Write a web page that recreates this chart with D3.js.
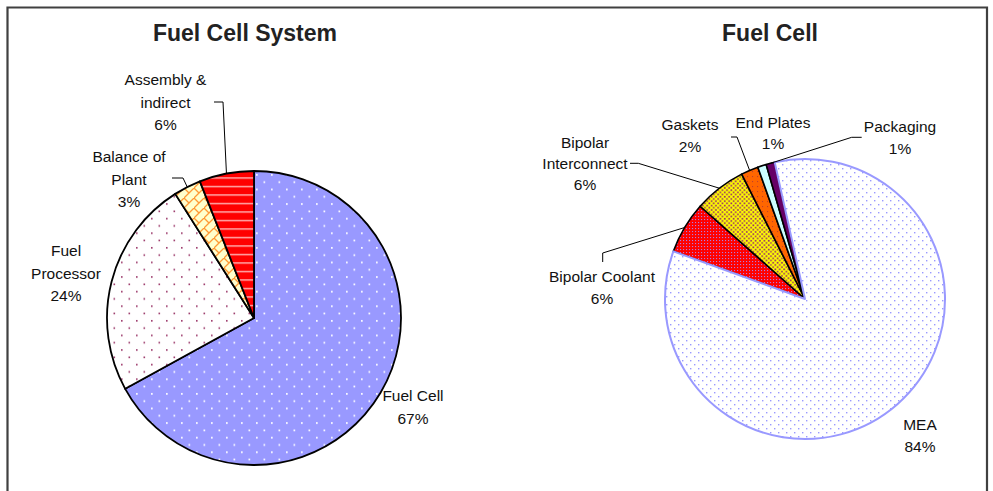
<!DOCTYPE html>
<html>
<head>
<meta charset="utf-8">
<script src="https://cdn.jsdelivr.net/npm/d3@7/dist/d3.min.js"></script>
<style>
  html, body { margin: 0; padding: 0; background: #fff; }
  svg { display: block; }
  text { font-family: "Liberation Sans", Arial, sans-serif; fill: #111; }
</style>
</head>
<body>
<svg id="chart" width="993" height="491"></svg>
<script>
// Cost breakdown data (percent)
const systemCategories = ["Fuel Cell", "Fuel Processor", "Balance of Plant", "Assembly & indirect"];
const systemValues = [67, 24, 3, 6];

const cellCategories = ["MEA", "Bipolar Coolant", "Bipolar Interconnect", "Gaskets", "End Plates", "Packaging"];
const cellValues = [84, 6, 6, 2, 1, 1];

const titles = ["Fuel Cell System", "Fuel Cell"];

// Label text lines per slice (name lines; the value line is appended)
const systemLabelLines = [["Fuel Cell"], ["Fuel", "Processor"], ["Balance of", "Plant"], ["Assembly &", "indirect"]];
const cellLabelLines = [["MEA"], ["Bipolar Coolant"], ["Bipolar", "Interconnect"], ["Gaskets"], ["End Plates"], ["Packaging"]];

const svg = d3.select("#chart");
const defs = svg.append("defs");

// ---- fill patterns ----
function dotPattern(id, w, h, bg, dot, pts, size) {
  const p = defs.append("pattern").attr("id", id)
    .attr("patternUnits", "userSpaceOnUse").attr("width", w).attr("height", h);
  p.append("rect").attr("width", w).attr("height", h).attr("fill", bg);
  pts.forEach(([x, y]) => p.append("rect").attr("x", x).attr("y", y)
    .attr("width", size).attr("height", size).attr("fill", dot));
}
dotPattern("pFuelCell", 15, 14.6, "#9999FF", "#FFFFFF", [[2, 2], [9.5, 9.3]], 1.7);
dotPattern("pProcessor", 15, 14.6, "#FFFFFF", "#993366", [[2, 2], [9.5, 9.3]], 1.6);
dotPattern("pMEA", 8, 8, "#FFFFFF", "#9999FF", [[1, 1], [5, 5]], 1.4);
dotPattern("pCoolant", 3, 3, "#FF0000", "#B07BE0", [[1, 1]], 1.1);
dotPattern("pGaskets", 5, 5, "#FF6600", "#C0402A", [[2, 2]], 1.1);

// diagonal brick lattice
(function () {
  const p = defs.append("pattern").attr("id", "pBalance")
    .attr("patternUnits", "userSpaceOnUse").attr("width", 10).attr("height", 10);
  p.append("rect").attr("width", 10).attr("height", 10).attr("fill", "#FFFFCC");
  p.append("path").attr("d", "M-1,11 L11,-1 M0,0 L5,5")
    .attr("stroke", "#FF9933").attr("stroke-width", 1.3).attr("fill", "none");
})();
// horizontal stripes
(function () {
  const p = defs.append("pattern").attr("id", "pAssembly")
    .attr("patternUnits", "userSpaceOnUse").attr("width", 8).attr("height", 8.5);
  p.append("rect").attr("width", 8).attr("height", 8.5).attr("fill", "#FF0000");
  p.append("rect").attr("y", 4).attr("width", 8).attr("height", 1.1).attr("fill", "#FFE6E6");
})();
// checker
(function () {
  const p = defs.append("pattern").attr("id", "pInterconnect")
    .attr("patternUnits", "userSpaceOnUse").attr("width", 4.4).attr("height", 4.4);
  p.append("rect").attr("width", 4.4).attr("height", 4.4).attr("fill", "#FFFF00");
  p.append("rect").attr("x", 0.3).attr("y", 0.3).attr("width", 1.7).attr("height", 1.7).attr("fill", "#993366");
  p.append("rect").attr("x", 2.5).attr("y", 2.5).attr("width", 1.7).attr("height", 1.7).attr("fill", "#993366");
})();

const systemFills = ["url(#pFuelCell)", "url(#pProcessor)", "url(#pBalance)", "url(#pAssembly)"];
const cellFills = ["url(#pMEA)", "url(#pCoolant)", "url(#pInterconnect)", "url(#pGaskets)", "#CCFFFF", "#660066"];

// ---- frame ----
svg.append("path")
  .attr("d", "M7.5,491 L7.5,7.5 L987,7.5 L987,491")
  .attr("fill", "none").attr("stroke", "#404040").attr("stroke-width", 2.2);

// ---- pie drawing ----
function drawPie(cfg) {
  const g = svg.append("g").attr("transform", `translate(${cfg.cx},${cfg.cy})`);
  const pie = d3.pie().sort(null).value(d => d)
    .startAngle(cfg.start).endAngle(cfg.start + 2 * Math.PI);
  const arcs = pie(cfg.values);
  const arc = d3.arc().innerRadius(0).outerRadius(cfg.r);

  const order = cfg.drawOrder || arcs.map((d, i) => i);
  order.forEach(i => {
    g.append("path").attr("d", arc(arcs[i]))
      .attr("fill", cfg.fills[i])
      .attr("stroke", cfg.strokes[i])
      .attr("stroke-width", cfg.strokeWidths[i])
      .attr("stroke-linejoin", "round");
  });

  // labels with optional leader lines to the slice's outer edge midpoint
  arcs.forEach((a, i) => {
    const lay = cfg.labels[i];
    const lines = cfg.labelLines[i].concat([cfg.values[i] + "%"]);
    const t = svg.append("text").attr("text-anchor", "middle")
      .style("font-size", "15.5px");
    lines.forEach((s, k) => {
      t.append("tspan").attr("x", lay.x).attr("y", lay.y + k * lay.dy).text(s);
    });
    if (lay.elbow) {
      const mid = (a.startAngle + a.endAngle) / 2;
      const ex = cfg.cx + cfg.r * Math.sin(mid);
      const ey = cfg.cy - cfg.r * Math.cos(mid);
      svg.append("path")
        .attr("d", `M${lay.elbow[0][0]},${lay.elbow[0][1]} L${lay.elbow[1][0]},${lay.elbow[1][1]} L${ex},${ey}`)
        .attr("fill", "none").attr("stroke", "#000").attr("stroke-width", 1);
    }
  });
}

drawPie({
  cx: 254, cy: 318, r: 147, start: 0,
  values: systemValues,
  fills: systemFills,
  strokes: ["#000", "#000", "#000", "#000"],
  strokeWidths: [1.8, 1.8, 1.8, 1.8],
  labelLines: systemLabelLines,
  labels: [
    { x: 413, y: 401, dy: 23 },
    { x: 66, y: 256, dy: 22.5 },
    { x: 129, y: 162, dy: 22.5, elbow: [[172, 178], [183, 178]] },
    { x: 165.5, y: 85, dy: 22.7, elbow: [[214, 102], [223, 102]] }
  ]
});

drawPie({
  cx: 805, cy: 299, r: 140, start: -12.5 * Math.PI / 180,
  values: cellValues,
  fills: cellFills,
  strokes: ["#9999FF", "#000", "#000", "#000", "#000", "#000"],
  strokeWidths: [2, 1.6, 1.6, 1.6, 1.6, 1.6],
  drawOrder: [1, 2, 3, 4, 5, 0],
  labelLines: cellLabelLines,
  labels: [
    { x: 920, y: 430, dy: 21.5 },
    { x: 602, y: 282, dy: 21.5, elbow: [[602.7, 262], [602.7, 253]] },
    { x: 585, y: 148, dy: 21, elbow: [[630, 163.3], [638.3, 163.3]] },
    { x: 690, y: 130, dy: 21.5, elbow: [[731, 137], [737, 137]] },
    { x: 773, y: 128, dy: 20.5 },
    { x: 900, y: 132, dy: 21.5, elbow: [[861.7, 137.3], [851.7, 137.3]] }
  ]
});

// ---- titles ----
svg.append("text").attr("x", 245).attr("y", 41).attr("text-anchor", "middle")
  .style("font-size", "23px").style("font-weight", "bold").style("fill", "#222").text(titles[0]);
svg.append("text").attr("x", 770).attr("y", 41).attr("text-anchor", "middle")
  .style("font-size", "23px").style("font-weight", "bold").style("fill", "#222").text(titles[1]);
</script>
</body>
</html>
